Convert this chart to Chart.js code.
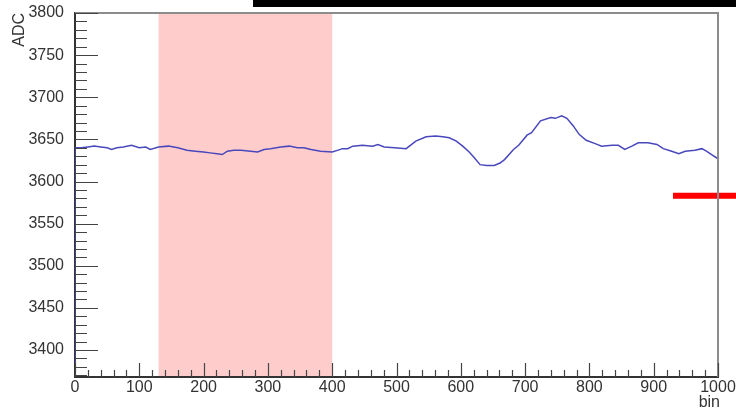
<!DOCTYPE html>
<html>
<head>
<meta charset="utf-8">
<script src="https://cdn.jsdelivr.net/npm/chart.js@4/dist/chart.umd.min.js"></script>
<style>
  html, body { margin: 0; padding: 0; background: #fff; overflow: hidden; }
  #wrap { width: 736px; height: 408px; position: relative; }
</style>
</head>
<body>
<div id="wrap"><canvas id="c" width="736" height="408"></canvas></div>
<script>
// Waveform samples: bin number and ADC reading
const bins = [0, 10, 20, 30, 40, 50, 57, 65, 75, 88, 100, 110, 117, 130, 145, 160, 174, 187, 200, 210,
  221, 229, 237, 247, 258, 273, 284, 294, 304, 320, 333, 346, 356, 367, 382, 400, 408, 416, 424, 432,
  447, 463, 471, 481, 497, 515, 530, 546, 561, 572, 582, 593, 603, 613, 620, 630, 640, 652, 661, 668,
  682, 690, 703, 710, 724, 740, 747, 757, 765, 775, 784, 795, 809, 819, 835, 845, 855, 866, 876, 891,
  905, 915, 928, 939, 949, 964, 975, 982, 990, 1000];
const adc = [3640, 3640, 3641, 3642, 3641, 3640, 3638, 3640, 3641, 3643, 3640, 3641, 3638, 3641, 3642, 3640, 3637, 3636, 3635, 3634,
  3633, 3632, 3636, 3637, 3637, 3636, 3635, 3638, 3639, 3641, 3642, 3640, 3640, 3638, 3636, 3635, 3637, 3639, 3639, 3642,
  3643, 3642, 3644, 3641, 3640, 3639, 3648, 3653, 3654, 3653, 3652, 3648, 3642, 3635, 3629, 3620, 3619, 3619, 3622, 3626,
  3638, 3643, 3655, 3658, 3672, 3676, 3675, 3678, 3675, 3666, 3656, 3649, 3645, 3642, 3643, 3643, 3638, 3642, 3646, 3646,
  3644, 3639, 3636, 3633, 3636, 3637, 3639, 3636, 3632, 3627];

// Empty bins just outside the recorded range (histogram drops to zero there)
const edgeLevel = 0;

// Axis ranges and ticks
const xRange = [0, 1000];
const yRange = [3368, 3800];
const xMajorTicks = [0, 100, 200, 300, 400, 500, 600, 700, 800, 900, 1000];
const yMajorTicks = [3400, 3450, 3500, 3550, 3600, 3650, 3700, 3750, 3800];
const xMinorStep = 20;
const yMinorStep = 10;

// Highlighted bin range and threshold marker
const selectedBins = [130, 400];
const thresholdLevel = 3583;
const thresholdBins = [930, 1040];

const FONT = "'Liberation Sans', Arial, Helvetica, sans-serif";
const TEXT = '#333333';
const FONT_SIZE = 16;

const wavePoints = [{ x: bins[0], y: edgeLevel }]
  .concat(bins.map((b, i) => ({ x: b, y: adc[i] })))
  .concat([{ x: bins[bins.length - 1], y: edgeLevel }]);

const thresholdPoints = thresholdBins.map(b => ({ x: b, y: thresholdLevel }));

const decorPlugin = {
  id: 'decor',
  beforeDatasetsDraw(chart) {
    const { ctx, chartArea: a, scales: { x } } = chart;
    const x0 = x.getPixelForValue(selectedBins[0]);
    const x1 = x.getPixelForValue(selectedBins[1]);
    ctx.save();
    ctx.fillStyle = '#ffcccc';
    ctx.fillRect(x0, a.top, x1 - x0, a.bottom - a.top - 1);
    ctx.restore();
  },
  afterDatasetsDraw(chart) {
    const { ctx, chartArea: a, scales: { x, y } } = chart;
    ctx.save();
    // frame on the top and right side
    ctx.strokeStyle = '#8c8c8c';
    ctx.lineWidth = 2;
    ctx.beginPath();
    ctx.moveTo(a.left, a.top);
    ctx.lineTo(a.right, a.top);
    ctx.lineTo(a.right, a.bottom);
    ctx.stroke();

    // inward tick marks
    ctx.strokeStyle = '#444444';
    ctx.lineWidth = 1.2;
    ctx.beginPath();
    for (let v = yRange[0] + (yMinorStep - yRange[0] % yMinorStep) % yMinorStep; v <= yRange[1]; v += yMinorStep) {
      const py = Math.round(y.getPixelForValue(v)) + 0.5;
      const len = yMajorTicks.includes(v) ? 23 : 12;
      ctx.moveTo(a.left, py);
      ctx.lineTo(a.left + len, py);
    }
    for (let v = xRange[0]; v <= xRange[1]; v += xMinorStep) {
      const px = Math.round(x.getPixelForValue(v)) + 0.5;
      const len = xMajorTicks.includes(v) ? 14 : 7;
      ctx.moveTo(px, a.bottom);
      ctx.lineTo(px, a.bottom - len);
    }
    ctx.stroke();
    ctx.restore();
  },
  afterDraw(chart) {
    const { ctx, chartArea: a } = chart;
    ctx.save();
    // title box edge along the top
    ctx.fillStyle = '#000000';
    ctx.fillRect(253, 0, chart.width - 253, 7);

    ctx.fillStyle = TEXT;
    ctx.font = `${FONT_SIZE}px ${FONT}`;
    // x-axis title, right-aligned under the axis end
    ctx.textAlign = 'right';
    ctx.textBaseline = 'alphabetic';
    ctx.fillText('bin', a.right + 2, 407);
    // y-axis title, rotated, right-aligned at the axis top
    ctx.translate(24, a.top);
    ctx.rotate(-Math.PI / 2);
    ctx.textAlign = 'right';
    ctx.fillText('ADC', 0, 0);
    ctx.restore();
  }
};

const plainNumber = v => String(v);

new Chart(document.getElementById('c'), {
  type: 'line',
  data: {
    datasets: [
      {
        data: wavePoints,
        borderColor: '#4848bc',
        borderWidth: 1.5,
        pointRadius: 0,
        tension: 0,
        fill: false,
        clip: 0
      },
      {
        data: thresholdPoints,
        borderColor: '#ff0000',
        borderWidth: 6,
        borderCapStyle: 'butt',
        pointRadius: 0,
        fill: false,
        clip: false
      }
    ]
  },
  options: {
    responsive: false,
    devicePixelRatio: 1,
    animation: false,
    layout: { padding: { top: 13, right: 18, left: 0, bottom: 0 } },
    plugins: { legend: { display: false }, tooltip: { enabled: false }, title: { display: false } },
    scales: {
      x: {
        type: 'linear',
        min: xRange[0],
        max: xRange[1],
        afterBuildTicks: s => { s.ticks = xMajorTicks.map(v => ({ value: v })); },
        afterFit: s => { s.height = 31; },
        grid: { display: false },
        border: { display: true, color: '#333333', width: 2 },
        ticks: { color: TEXT, font: { family: FONT, size: FONT_SIZE }, padding: -7, maxRotation: 0, autoSkip: false, callback: plainNumber }
      },
      y: {
        type: 'linear',
        min: yRange[0],
        max: yRange[1],
        afterBuildTicks: s => { s.ticks = yMajorTicks.map(v => ({ value: v })); },
        afterFit: s => { s.width = 75; },
        grid: { display: false },
        border: { display: true, color: '#333333', width: 2 },
        ticks: { color: TEXT, font: { family: FONT, size: FONT_SIZE }, padding: 3, autoSkip: false, callback: plainNumber }
      }
    }
  },
  plugins: [decorPlugin]
});
</script>
</body>
</html>
